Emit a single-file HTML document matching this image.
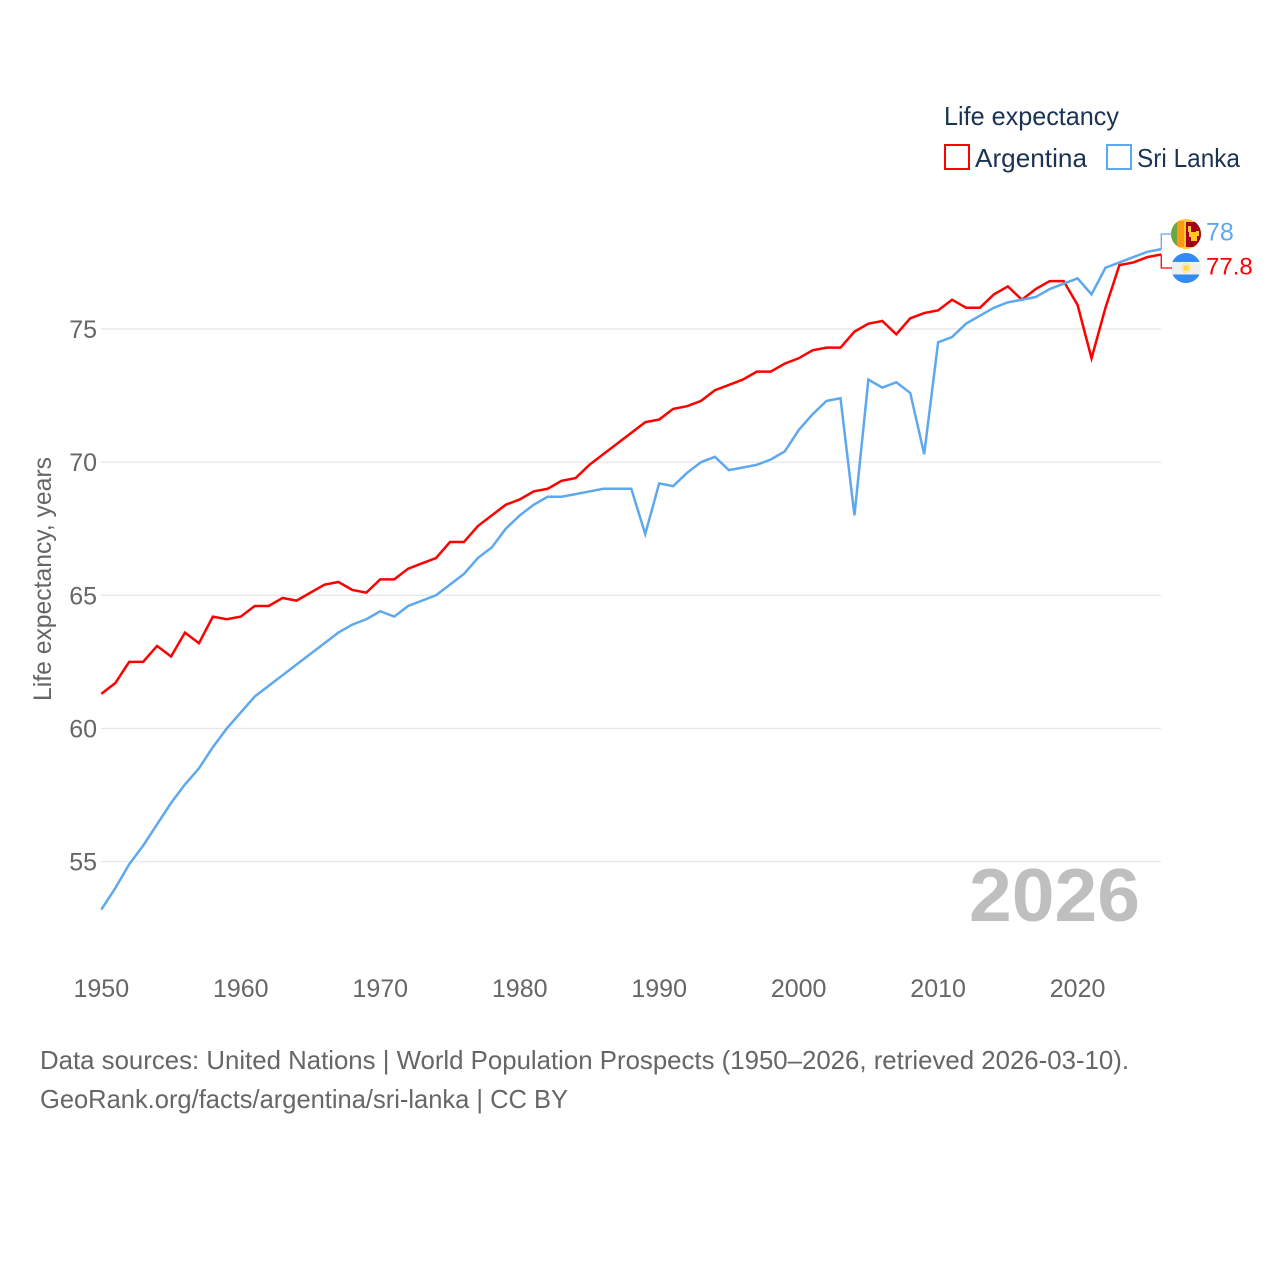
<!DOCTYPE html>
<html lang="en">
<head>
<meta charset="utf-8">
<title>Life expectancy: Argentina and Sri Lanka</title>
<style>
html,body{margin:0;padding:0;background:#fff;width:1280px;height:1280px;overflow:hidden}
svg{display:block}
text{font-family:"Liberation Sans",sans-serif}
.tick{font-size:25px;fill:#666}
.legend{font-size:26px;fill:#1a3353}
.src{font-size:26px;fill:#666}
</style>
</head>
<body>
<svg id="chart" width="1280" height="1280" viewBox="0 0 1280 1280" xmlns="http://www.w3.org/2000/svg">
  <defs>
    <clipPath id="flag-clip"><circle cx="0" cy="0" r="15"></circle></clipPath>
  </defs>
  <g id="grid"></g>
  <g id="y-ticks"></g>
  <g id="x-ticks"></g>
  <text class="tick" transform="translate(51,579) rotate(-90)" text-anchor="middle" textLength="244" lengthAdjust="spacingAndGlyphs">Life expectancy, years</text>
  <text x="1140" y="921" text-anchor="end" font-size="75" font-weight="700" fill="#bfbfbf" textLength="171" lengthAdjust="spacingAndGlyphs">2026</text>
  <g id="series"></g>
  <g id="sl-flag" clip-path="url(#flag-clip)">
    <rect x="-15" y="-15" width="30" height="30" fill="#ffc727"></rect>
    <rect x="-15" y="-13" width="6" height="26" fill="#6da544"></rect>
    <rect x="-9" y="-13" width="7" height="26" fill="#ff9811"></rect>
    <rect x="0" y="-12" width="15" height="25" fill="#a2001d"></rect>
    <path d="M2-8h3v6h5v-1h3v5h-2v5h-6v-4h-2v-5h-1z" fill="#ffc727"></path>
  </g>
  <g id="ar-flag" clip-path="url(#flag-clip)">
    <rect x="-15" y="-15" width="30" height="30" fill="#f0f0f0"></rect>
    <rect x="-15" y="-15" width="30" height="9" fill="#338af3"></rect>
    <rect x="-15" y="6.5" width="30" height="9" fill="#338af3"></rect>
    <circle cx="0" cy="0" r="3" fill="#ffda44"></circle>
    <circle cx="0" cy="0" r="4.4" fill="none" stroke="#ffda44" stroke-width="1.2" stroke-dasharray="1.4 1.4"></circle>
  </g>
  <g id="end-labels"></g>
  <g>
    <text class="legend" x="944" y="125" textLength="175" lengthAdjust="spacingAndGlyphs">Life expectancy</text>
    <rect x="945" y="145" width="24" height="24" fill="none" stroke="#ff0000" stroke-width="2"></rect>
    <text class="legend" x="975" y="167" textLength="112" lengthAdjust="spacingAndGlyphs">Argentina</text>
    <rect x="1107" y="145" width="24" height="24" fill="none" stroke="#5ea8f0" stroke-width="2"></rect>
    <text class="legend" x="1137" y="167" textLength="103" lengthAdjust="spacingAndGlyphs">Sri Lanka</text>
  </g>
  <text class="src" x="40" y="1069" textLength="1089" lengthAdjust="spacingAndGlyphs">Data sources: United Nations | World Population Prospects (1950–2026, retrieved 2026-03-10).</text>
  <text class="src" x="40" y="1108" textLength="528" lengthAdjust="spacingAndGlyphs">GeoRank.org/facts/argentina/sri-lanka | CC BY</text>
</svg>
<script>
const startYear = 1950;
const yTicks = [55, 60, 65, 70, 75];
const xTicks = [1950, 1960, 1970, 1980, 1990, 2000, 2010, 2020];
const argentina = [
  61.3, 61.7, 62.5, 62.5, 63.1, 62.7, 63.6, 63.2, 64.2, 64.1,
  64.2, 64.6, 64.6, 64.9, 64.8, 65.1, 65.4, 65.5, 65.2, 65.1,
  65.6, 65.6, 66.0, 66.2, 66.4, 67.0, 67.0, 67.6, 68.0, 68.4,
  68.6, 68.9, 69.0, 69.3, 69.4, 69.9, 70.3, 70.7, 71.1, 71.5,
  71.6, 72.0, 72.1, 72.3, 72.7, 72.9, 73.1, 73.4, 73.4, 73.7,
  73.9, 74.2, 74.3, 74.3, 74.9, 75.2, 75.3, 74.8, 75.4, 75.6,
  75.7, 76.1, 75.8, 75.8, 76.3, 76.6, 76.1, 76.5, 76.8, 76.8,
  75.9, 73.9, 75.8, 77.4, 77.5, 77.7, 77.8
];
const sriLanka = [
  53.2, 54.0, 54.9, 55.6, 56.4, 57.2, 57.9, 58.5, 59.3, 60.0,
  60.6, 61.2, 61.6, 62.0, 62.4, 62.8, 63.2, 63.6, 63.9, 64.1,
  64.4, 64.2, 64.6, 64.8, 65.0, 65.4, 65.8, 66.4, 66.8, 67.5,
  68.0, 68.4, 68.7, 68.7, 68.8, 68.9, 69.0, 69.0, 69.0, 67.3,
  69.2, 69.1, 69.6, 70.0, 70.2, 69.7, 69.8, 69.9, 70.1, 70.4,
  71.2, 71.8, 72.3, 72.4, 68.0, 73.1, 72.8, 73.0, 72.6, 70.3,
  74.5, 74.7, 75.2, 75.5, 75.8, 76.0, 76.1, 76.2, 76.5, 76.7,
  76.9, 76.3, 77.3, 77.5, 77.7, 77.9, 78.0
];

const NS = 'http://www.w3.org/2000/svg';
const RED = '#ff0000';
const BLUE = '#5ea8f0';
const xScale = function (year) { return 101.3 + (year - 1950) * 13.947; };
const yScale = function (v) { return 329 + (75 - v) * 26.63; };
const make = function (tag, parent) {
  const el = document.createElementNS(NS, tag);
  parent.appendChild(el);
  return el;
};

const gridG = document.getElementById('grid');
const yTickG = document.getElementById('y-ticks');
const xTickG = document.getElementById('x-ticks');
const seriesG = document.getElementById('series');
const labelG = document.getElementById('end-labels');

yTicks.forEach(function (t) {
  const line = make('line', gridG);
  
  
  line.setAttribute('x1', 101);
  line.setAttribute('x2', 1161);
  line.setAttribute('y1', yScale(t));
  line.setAttribute('y2', yScale(t));
  line.setAttribute('stroke', '#e8e8e8');
  line.setAttribute('stroke-width', 1.4);
  const label = make('text', yTickG);
  
  
  label.setAttribute('class', 'tick');
  label.setAttribute('x', 97);
  label.setAttribute('y', yScale(t) + 9);
  label.setAttribute('text-anchor', 'end');
  label.textContent = t;
});

xTicks.forEach(function (t) {
  const label = make('text', xTickG);
  
  
  label.setAttribute('class', 'tick');
  label.setAttribute('x', xScale(t));
  label.setAttribute('y', 997);
  label.setAttribute('text-anchor', 'middle');
  label.textContent = t;
});

const pointsFor = function (values) {
  return values.map(function (v, i) {
    return xScale(startYear + i).toFixed(2) + ',' + yScale(v).toFixed(2);
  }).join(' ');
};

const lineArg = make('polyline', seriesG);


lineArg.setAttribute('points', pointsFor(argentina));
lineArg.setAttribute('fill', 'none');
lineArg.setAttribute('stroke', RED);
lineArg.setAttribute('stroke-width', 2.5);
lineArg.setAttribute('stroke-linejoin', 'miter');

const lineSri = make('polyline', seriesG);


lineSri.setAttribute('points', pointsFor(sriLanka));
lineSri.setAttribute('fill', 'none');
lineSri.setAttribute('stroke', BLUE);
lineSri.setAttribute('stroke-width', 2.5);
lineSri.setAttribute('stroke-linejoin', 'miter');

const lastArg = argentina[argentina.length - 1];
const lastSri = sriLanka[sriLanka.length - 1];
const endX = xScale(startYear + argentina.length - 1);
const yArgEnd = yScale(lastArg);
const ySriEnd = yScale(lastSri);
const midY = (yArgEnd + ySriEnd) / 2 - 0.8;
const upper = midY - 17;
const lower = midY + 17;
const ySriLabel = lastSri >= lastArg ? upper : lower;
const yArgLabel = lastSri >= lastArg ? lower : upper;

const connSri = make('polyline', labelG);


connSri.setAttribute('points', endX + ',' + ySriEnd + ' ' + endX + ',' + ySriLabel + ' 1172,' + ySriLabel);
connSri.setAttribute('fill', 'none');
connSri.setAttribute('stroke', BLUE);
connSri.setAttribute('stroke-width', 1.3);

const connArg = make('polyline', labelG);


connArg.setAttribute('points', endX + ',' + yArgEnd + ' ' + endX + ',' + yArgLabel + ' 1172,' + yArgLabel);
connArg.setAttribute('fill', 'none');
connArg.setAttribute('stroke', RED);
connArg.setAttribute('stroke-width', 1.3);

const labelSri = make('text', labelG);


labelSri.setAttribute('x', 1206);
labelSri.setAttribute('y', ySriLabel + 6.5);
labelSri.setAttribute('font-size', 25);
labelSri.setAttribute('fill', BLUE);
labelSri.textContent = lastSri;

const labelArg = make('text', labelG);


labelArg.setAttribute('x', 1206);
labelArg.setAttribute('y', yArgLabel + 6.5);
labelArg.setAttribute('font-size', 24);
labelArg.setAttribute('fill', RED);
labelArg.textContent = lastArg;

document.getElementById('sl-flag').setAttribute('transform', 'translate(1186,' + ySriLabel + ')');
document.getElementById('ar-flag').setAttribute('transform', 'translate(1186,' + yArgLabel + ')');
</script>
</body>
</html>
